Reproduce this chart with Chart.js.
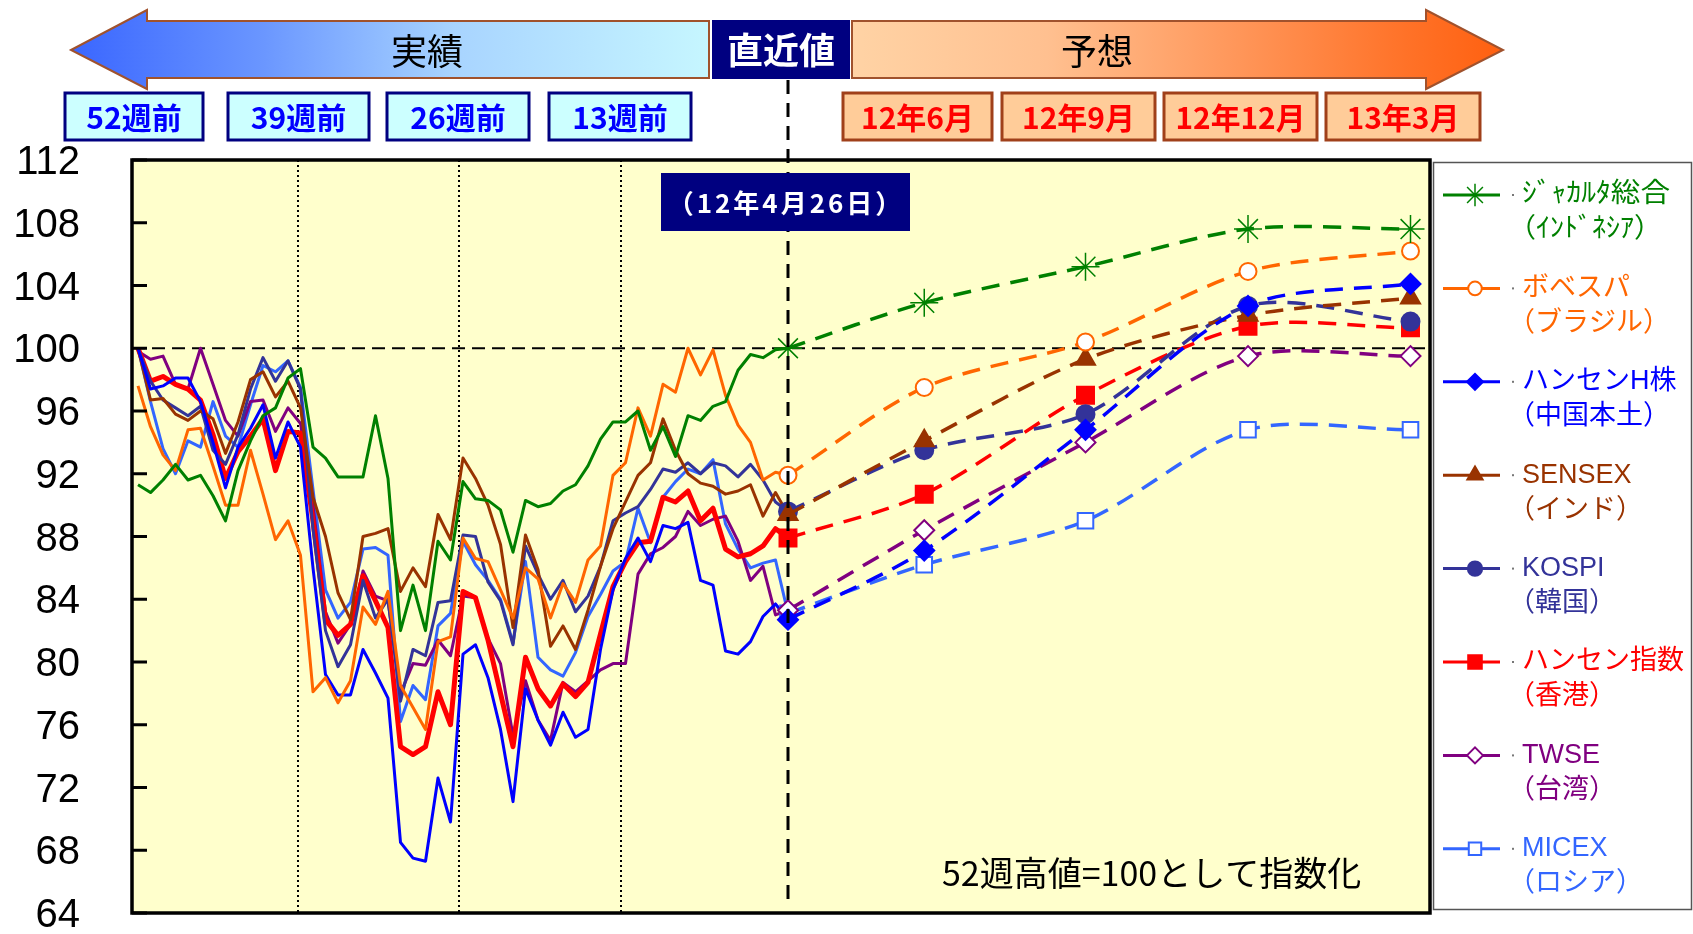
<!DOCTYPE html>
<html lang="ja">
<head>
<meta charset="utf-8">
<title>新興国株価指数</title>
<script src="https://cdn.jsdelivr.net/npm/chart.js@4.4.1/dist/chart.umd.min.js"></script>
<style>
  html, body { margin: 0; padding: 0; background: #ffffff; }
  #chart { display: block; }
</style>
</head>
<body>
<canvas id="chart" width="1693" height="934"></canvas>
<script>
// 見出しのラベル
const pastLabels = ["52週前", "39週前", "26週前", "13週前"];
const futureLabels = ["12年6月", "12年9月", "12年12月", "13年3月"];
const latestLabel = "（12年4月26日）";
const noteText = "52週高値=100として指数化";

// 横軸は「52週前」からの週数
const quarterWeeks = [12.8, 25.7, 38.6];
const latestWeek = 52;
const forecastWeeks = [52, 62.9, 75.8, 88.8, 101.8];

// 週次実績（52週高値=100）
const jakarta = [91.3, 90.8, 91.6, 92.6, 91.6, 91.9, 90.6, 89.0, 92.2, 94.1,
  95.7, 96.2, 98.1, 98.7, 93.7, 93.0, 91.8, 91.8, 91.8, 95.7,
  91.7, 82.0, 84.9, 82.0, 87.7, 86.5, 91.5, 90.4, 90.3, 89.7,
  87.0, 90.3, 89.9, 90.1, 90.9, 91.3, 92.5, 94.2, 95.3, 95.3,
  96.0, 93.5, 95.0, 93.1, 95.7, 95.4, 96.3, 96.6, 98.6, 99.6,
  99.4, 99.9, 100.0];
const bovespa = [97.6, 95.0, 93.2, 92.2, 94.8, 94.9, 92.5, 90.0, 90.0, 93.5,
  90.7, 87.8, 89.0, 86.8, 78.1, 79.0, 77.4, 78.8, 83.5, 82.4,
  84.5, 78.5, 77.1, 75.7, 81.3, 81.6, 87.9, 86.6, 86.4, 84.6,
  82.8, 86.0, 85.3, 82.8, 85.0, 83.8, 86.5, 87.4, 91.9, 92.7,
  96.2, 94.4, 97.7, 97.2, 100.0, 98.3, 99.9, 97.0, 95.1, 94.0,
  91.6, 92.1, 91.9];
const hsceiChina = [100.0, 97.4, 97.6, 98.1, 98.1, 96.6, 94.0, 91.1, 93.7, 94.9,
  96.4, 93.0, 95.3, 93.7, 86.0, 79.2, 77.9, 77.9, 80.8, 79.3,
  77.7, 68.5, 67.5, 67.3, 72.6, 69.8, 80.5, 81.1, 79.0, 75.7,
  71.1, 78.3, 76.3, 74.7, 76.8, 75.2, 75.7, 80.8, 84.6, 86.6,
  87.9, 86.4, 88.7, 88.5, 88.9, 85.2, 84.9, 80.7, 80.5, 81.3,
  82.9, 83.7, 82.7];
const sensex = [100.0, 96.7, 96.8, 95.8, 95.4, 96.0, 95.5, 93.3, 95.3, 98.0,
  98.5, 96.9, 97.9, 96.2, 90.5, 88.0, 84.4, 82.7, 88.0, 88.2,
  88.5, 84.5, 86.0, 84.8, 89.4, 87.8, 93.0, 91.7, 90.0, 87.5,
  82.2, 88.1, 85.9, 81.0, 82.3, 80.8, 83.3, 86.1, 88.5, 90.2,
  91.9, 92.7, 95.5, 93.5, 92.0, 91.4, 91.2, 90.7, 90.9, 91.3,
  89.3, 90.8, 89.4];
const kospi = [100.0, 97.9, 96.7, 96.2, 95.7, 96.3, 93.5, 92.6, 94.5, 97.4,
  99.4, 97.9, 99.2, 97.4, 88.5, 82.0, 79.7, 81.1, 85.2, 82.8,
  84.0, 77.5, 80.8, 80.4, 83.8, 83.9, 88.1, 88.0, 85.1, 83.9,
  81.1, 87.4, 85.6, 84.0, 85.2, 83.2, 84.2, 86.1, 89.0, 89.5,
  89.9, 91.0, 92.3, 92.1, 92.7, 92.0, 92.7, 92.5, 91.8, 92.6,
  91.6, 90.2, 89.6];
const hangSeng = [100.0, 97.9, 98.2, 97.7, 97.4, 96.7, 94.5, 91.7, 93.4, 94.4,
  95.5, 92.2, 94.7, 94.6, 89.0, 82.7, 81.7, 82.4, 85.5, 83.9,
  82.2, 74.6, 74.1, 74.6, 78.1, 76.0, 84.5, 84.1, 81.4, 78.0,
  74.6, 80.3, 78.3, 77.2, 78.6, 77.8, 78.7, 81.8, 84.8, 86.4,
  87.6, 87.7, 90.5, 90.2, 90.9, 89.0, 89.8, 87.2, 86.7, 86.9,
  87.4, 88.5, 87.9];
const twse = [99.8, 99.3, 99.5, 97.7, 97.4, 100.0, 97.7, 95.4, 94.4, 96.6,
  96.7, 94.7, 96.2, 95.2, 90.0, 83.2, 81.2, 82.4, 85.8, 84.2,
  83.9, 78.0, 79.9, 79.8, 81.4, 80.4, 84.2, 84.1, 81.5, 79.9,
  75.3, 78.8, 76.3, 75.0, 78.7, 78.1, 78.8, 79.5, 79.9, 79.9,
  85.6, 86.9, 87.3, 88.0, 89.6, 88.7, 89.1, 89.3, 87.7, 85.2,
  86.1, 83.0, 83.3];
const micex = [100.0, 96.6, 93.6, 92.0, 94.1, 93.7, 96.6, 94.4, 93.7, 96.4,
  98.9, 98.5, 99.2, 97.5, 91.0, 84.6, 82.8, 83.8, 87.2, 87.3,
  86.8, 76.2, 78.5, 77.6, 82.3, 83.1, 87.7, 86.2, 85.2, 84.0,
  81.2, 86.4, 80.3, 79.5, 79.1, 80.6, 82.9, 84.3, 85.8, 86.4,
  89.8, 87.6, 90.5, 91.5, 92.3, 92.0, 92.9, 88.8, 87.2, 86.0,
  86.3, 86.5, 83.1];

// 予想（12年6月, 9月, 12月, 13年3月）
const jakartaFc = [102.9, 105.2, 107.6, 107.6];
const bovespaFc = [97.5, 100.4, 104.9, 106.2];
const hsceiChinaFc = [87.1, 94.8, 102.7, 104.1];
const sensexFc = [94.1, 99.3, 102.1, 103.2];
const kospiFc = [93.5, 95.8, 102.7, 101.7];
const hangSengFc = [90.7, 97.0, 101.4, 101.3];
const twseFc = [88.4, 94.0, 99.5, 99.5];
const micexFc = [86.2, 89.0, 94.8, 94.8];

const JP = "'Noto Sans CJK JP', 'Liberation Sans', sans-serif";
const LATIN = "'Liberation Sans', 'Noto Sans CJK JP', sans-serif";

// 半角カナの凡例は少し横に伸ばす（fit: 行ごとの幅）
const series = [
  { label: ["ｼﾞｬｶﾙﾀ総合", "（ｲﾝﾄﾞﾈｼｱ）"], fit: [148, 154], hist: jakarta, fc: jakartaFc, color: "#008000", point: "star", open: false, radius: 14 },
  { label: ["ボベスパ", "（ブラジル）"], hist: bovespa, fc: bovespaFc, color: "#ff6600", point: "circle", open: true, radius: 8.5 },
  { label: ["ハンセンH株", "（中国本土）"], hist: hsceiChina, fc: hsceiChinaFc, color: "#0000ff", point: "rectRot", open: false, radius: 10 },
  { label: ["SENSEX", "（インド）"], hist: sensex, fc: sensexFc, color: "#993300", point: "triangle", open: false, radius: 11 },
  { label: ["KOSPI", "（韓国）"], hist: kospi, fc: kospiFc, color: "#333399", point: "circle", open: false, radius: 9 },
  { label: ["ハンセン指数", "（香港）"], hist: hangSeng, fc: hangSengFc, color: "#ff0000", point: "rect", open: false, radius: 12, width: 5 },
  { label: ["TWSE", "（台湾）"], hist: twse, fc: twseFc, color: "#800080", point: "rectRot", open: true, radius: 10 },
  { label: ["MICEX", "（ロシア）"], hist: micex, fc: micexFc, color: "#3366ff", point: "rect", open: true, radius: 11 },
];

const datasets = [];
series.forEach((s) => {
  datasets.push({
    label: s.label[0],
    data: s.hist.map((v, i) => ({ x: i, y: v })),
    borderColor: s.color,
    borderWidth: s.width || 3,
    borderJoinStyle: "round",
    pointRadius: 0,
    tension: 0,
    order: 2,
  });
});
series.forEach((s) => {
  const vals = [s.hist[s.hist.length - 1]].concat(s.fc);
  datasets.push({
    label: s.label[0] + " 予想",
    data: vals.map((v, i) => ({ x: forecastWeeks[i], y: v })),
    borderColor: s.color,
    borderWidth: 3.5,
    borderDash: [18, 11],
    tension: 0.3,
    pointStyle: s.point,
    pointRadius: s.radius,
    pointBackgroundColor: s.open ? "#ffffff" : s.color,
    pointBorderColor: s.color,
    pointBorderWidth: s.point === "star" ? 1.5 : 2,
    order: 1,
  });
});

function marker(ctx, s, x, y, r) {
  ctx.save();
  ctx.fillStyle = s.open ? "#ffffff" : s.color;
  ctx.strokeStyle = s.color;
  const bw = s.point === "star" ? 1.5 : 2;
  ctx.lineWidth = bw;
  Chart.helpers.drawPoint(ctx, { pointStyle: s.point, radius: r, rotation: 0, borderWidth: bw }, x, y);
  ctx.restore();
}

function labelBox(ctx, x0, x1, text, fill, border, color, maxW) {
  const y0 = 93, y1 = 140;
  ctx.fillStyle = fill;
  ctx.fillRect(x0, y0, x1 - x0, y1 - y0);
  ctx.strokeStyle = border;
  ctx.lineWidth = 3;
  ctx.strokeRect(x0, y0, x1 - x0, y1 - y0);
  ctx.fillStyle = color;
  ctx.font = "bold 30px " + JP;
  ctx.textAlign = "center";
  ctx.textBaseline = "middle";
  ctx.fillText(text, (x0 + x1) / 2, 118, maxW);
}

function drawHeader(ctx) {
  ctx.save();
  // 実績（左向き矢印）
  let g = ctx.createLinearGradient(71, 0, 709, 0);
  g.addColorStop(0, "#3a66ff");
  g.addColorStop(0.3, "#6a96ff");
  g.addColorStop(0.6, "#a8d4ff");
  g.addColorStop(1, "#c6f6ff");
  ctx.beginPath();
  ctx.moveTo(71, 50);
  ctx.lineTo(147, 10);
  ctx.lineTo(147, 21);
  ctx.lineTo(709, 21);
  ctx.lineTo(709, 78);
  ctx.lineTo(147, 78);
  ctx.lineTo(147, 89);
  ctx.closePath();
  ctx.fillStyle = g;
  ctx.fill();
  ctx.strokeStyle = "#a0522d";
  ctx.lineWidth = 2;
  ctx.stroke();

  // 予想（右向き矢印）
  g = ctx.createLinearGradient(852, 0, 1503, 0);
  g.addColorStop(0, "#ffd3a5");
  g.addColorStop(0.3, "#ffc090");
  g.addColorStop(0.6, "#ff9558");
  g.addColorStop(0.85, "#ff7228");
  g.addColorStop(1, "#ff6010");
  ctx.beginPath();
  ctx.moveTo(852, 21);
  ctx.lineTo(1426, 21);
  ctx.lineTo(1426, 10);
  ctx.lineTo(1503, 50);
  ctx.lineTo(1426, 89);
  ctx.lineTo(1426, 78);
  ctx.lineTo(852, 78);
  ctx.closePath();
  ctx.fillStyle = g;
  ctx.fill();
  ctx.stroke();

  ctx.fillStyle = "#000000";
  ctx.font = "36px " + JP;
  ctx.textAlign = "center";
  ctx.textBaseline = "middle";
  ctx.fillText("実績", 427, 51);
  ctx.fillText("予想", 1097, 51);

  // 直近値
  ctx.fillStyle = "#000080";
  ctx.fillRect(712, 20, 138, 59);
  ctx.fillStyle = "#ffffff";
  ctx.font = "bold 36px " + JP;
  ctx.fillText("直近値", 781, 50);

  const pastBoxes = [[65, 203], [228, 369], [387, 529], [549, 691]];
  pastLabels.forEach((t, i) => {
    labelBox(ctx, pastBoxes[i][0], pastBoxes[i][1], t, "#ccffff", "#000080", "#0000ff", 100);
  });
  const futureBoxes = [[843, 992], [1002, 1155], [1164, 1317], [1326, 1480]];
  futureLabels.forEach((t, i) => {
    labelBox(ctx, futureBoxes[i][0], futureBoxes[i][1], t, "#ffcc99", "#a0401a", "#ff0000", 130);
  });
  ctx.restore();
}

function legendText(ctx, text, x, y, width) {
  const w = ctx.measureText(text).width;
  if (!width || w >= width) {
    ctx.fillText(text, x, y);
    return;
  }
  ctx.save();
  ctx.translate(x, y);
  ctx.scale(width / w, 1);
  ctx.fillText(text, 0, 0);
  ctx.restore();
}

function drawLegend(ctx) {
  ctx.save();
  ctx.fillStyle = "#ffffff";
  ctx.fillRect(1433, 162, 259, 748);
  ctx.strokeStyle = "#555555";
  ctx.lineWidth = 1.5;
  ctx.strokeRect(1433.5, 162.5, 258, 747);
  series.forEach((s, k) => {
    const y = 195 + k * 93.4;
    ctx.strokeStyle = s.color;
    ctx.lineWidth = 3;
    ctx.beginPath();
    ctx.moveTo(1443, y);
    ctx.lineTo(1500, y);
    ctx.stroke();
    marker(ctx, s, 1475, y, s.radius * 0.8);
    ctx.fillStyle = "#777777";
    ctx.fillRect(1512, y - 1, 2, 2);
    ctx.fillStyle = s.color;
    ctx.font = "27px " + LATIN;
    ctx.textAlign = "left";
    ctx.textBaseline = "middle";
    const fit = s.fit || [];
    legendText(ctx, s.label[0], 1522, y, fit[0]);
    // 全角の「（」は左側の余白が大きいので少し左から書く
    legendText(ctx, s.label[1], 1508, y + 35, fit[1]);
  });
  ctx.restore();
}

const frame = {
  id: "frame",
  beforeDraw(chart) {
    const { ctx, chartArea: a } = chart;
    ctx.save();
    ctx.fillStyle = "#ffffcc";
    ctx.fillRect(a.left, a.top, a.right - a.left, a.bottom - a.top);
    ctx.restore();
  },
  beforeDatasetsDraw(chart) {
    const { ctx, chartArea: a, scales } = chart;
    ctx.save();
    ctx.strokeStyle = "#000000";
    ctx.lineWidth = 2;
    ctx.setLineDash([2, 3]);
    quarterWeeks.forEach((w) => {
      const x = Math.round(scales.x.getPixelForValue(w));
      ctx.beginPath();
      ctx.moveTo(x, a.top);
      ctx.lineTo(x, a.bottom);
      ctx.stroke();
    });
    const y = scales.y.getPixelForValue(100);
    ctx.setLineDash([13, 7]);
    ctx.beginPath();
    ctx.moveTo(a.left, y);
    ctx.lineTo(a.right, y);
    ctx.stroke();
    ctx.restore();
  },
  afterDatasetsDraw(chart) {
    const { ctx, chartArea: a, scales } = chart;
    ctx.save();
    // 直近の縦線
    const x = scales.x.getPixelForValue(latestWeek);
    ctx.strokeStyle = "#000000";
    ctx.lineWidth = 3;
    ctx.setLineDash([14, 9]);
    ctx.beginPath();
    ctx.moveTo(x, 80);
    ctx.lineTo(x, a.bottom - 8);
    ctx.stroke();
    ctx.setLineDash([]);
    // 目盛り（内向き）
    ctx.lineWidth = 3;
    scales.y.ticks.forEach((t) => {
      const ty = scales.y.getPixelForValue(t.value);
      ctx.beginPath();
      ctx.moveTo(a.left, ty);
      ctx.lineTo(a.left + 15, ty);
      ctx.stroke();
    });
    // 枠
    ctx.lineWidth = 3.5;
    ctx.strokeRect(a.left, a.top, a.right - a.left, a.bottom - a.top);
    ctx.restore();
  },
  afterDraw(chart) {
    const { ctx, scales } = chart;
    drawHeader(ctx);
    // 日付ラベル
    const x = scales.x.getPixelForValue(latestWeek);
    ctx.save();
    ctx.fillStyle = "#000080";
    ctx.fillRect(661, 173, 249, 58);
    ctx.fillStyle = "#ffffff";
    ctx.font = "bold 26px " + JP;
    ctx.letterSpacing = "3px";
    ctx.textAlign = "center";
    ctx.textBaseline = "middle";
    ctx.fillText(latestLabel, x - 2, 203);
    ctx.letterSpacing = "0px";
    // 注記
    ctx.fillStyle = "#000000";
    ctx.font = "34px " + JP;
    ctx.textAlign = "left";
    ctx.fillText(noteText, 942, 873, 427);
    ctx.restore();
    drawLegend(ctx);
  },
};

new Chart(document.getElementById("chart"), {
  type: "line",
  data: { datasets },
  options: {
    responsive: false,
    animation: false,
    events: [],
    layout: { padding: { left: 0, top: 160, right: 263, bottom: 21 } },
    plugins: { legend: { display: false }, tooltip: { enabled: false } },
    scales: {
      x: { type: "linear", min: -0.48, max: 103.36, display: false },
      y: {
        min: 64,
        max: 112,
        ticks: {
          stepSize: 4,
          padding: 0,
          labelOffset: 3,
          color: "#000000",
          font: { family: LATIN, size: 40, lineHeight: 1 },
        },
        // 目盛り線は自前で内側に描くので、ここは透明にしてラベルの位置だけ決める
        grid: { display: true, drawOnChartArea: false, drawTicks: true, tickLength: 52, color: "rgba(0,0,0,0)" },
        border: { display: false },
        afterFit: (scale) => { scale.width = 132; },
      },
    },
  },
  plugins: [frame],
});
</script>
</body>
</html>
